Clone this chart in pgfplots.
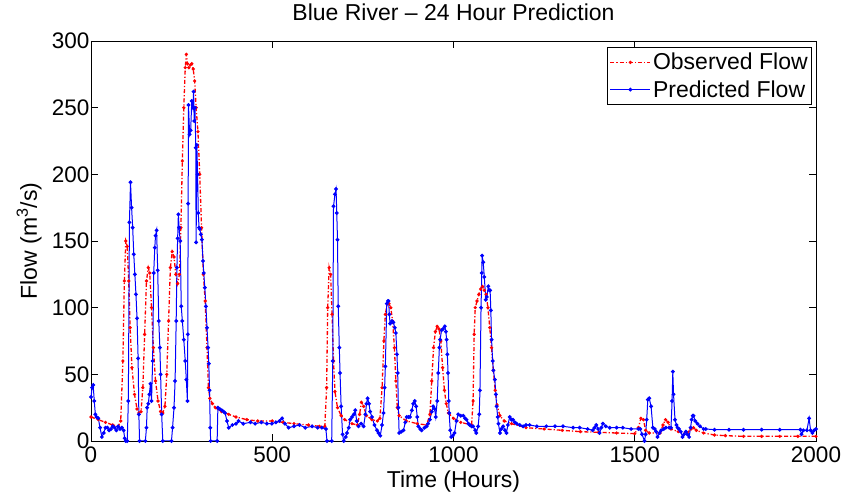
\documentclass[border=0pt]{standalone}
\usepackage{fontspec}
\setmainfont{Liberation Sans}
\usepackage{pgfplots}
\pgfplotsset{compat=1.18}
\begin{document}
\begin{tikzpicture}
\useasboundingbox (-91pt,-54pt) rectangle (756pt,441pt);
\begin{axis}[
  at={(0pt,0pt)}, anchor=south west,
  width=725pt, height=400pt, scale only axis,
  xmin=0, xmax=2000, ymin=0, ymax=300,
  xtick={0,500,1000,1500,2000},
  ytick={0,50,100,150,200,250,300},
  tick align=inside,
  major tick length=7pt,
  tick style={black, line width=0.6pt},
  axis line style={black, line width=0.8pt},
  /pgf/number format/assume math mode=true,
  /pgf/number format/1000 sep={},
  ticklabel style={font=\fontsize{22.5}{26}\selectfont},
  xticklabel style={yshift=-2pt},
  yticklabel style={xshift=2pt},
  title={Blue River -- 24 Hour Prediction},
  title style={at={(0.5,1)}, anchor=base, yshift=14pt, font=\fontsize{23}{27}\selectfont},
  xlabel={Time (Hours)},
  xlabel style={at={(axis description cs:0.5,0)}, anchor=base, yshift=-47pt, font=\fontsize{23}{27}\selectfont},
  ylabel={Flow (m\textsuperscript{3}/s)},
  every axis y label/.style={at={(axis description cs:-0.0745,0.5)}, rotate=90, anchor=base, font=\fontsize{23}{27}\selectfont},
  legend style={at={(1,1)}, anchor=north east, xshift=-4pt, yshift=-6pt,
    draw=black, line width=0.6pt, font=\fontsize{23}{27}\selectfont,
    inner xsep=2pt, inner ysep=4pt, row sep=5pt, cells={anchor=west}},
  legend image code/.code={\draw[mark repeat=2,mark phase=2,#1] plot coordinates {(0pt,0pt)(20pt,0pt)(40pt,0pt)};},
]
\addplot[red, line width=1.3pt, dash pattern=on 4pt off 2pt on 1.2pt off 2pt, mark=*, mark size=0.9pt, mark options={solid}] table {
0 18
20 16
40 14
60 12
75 11
82 15
88 60
92 120
96 150
100 146
104 120
108 85
113 55
120 35
127 24
132 21
138 22
143 40
148 80
153 120
158 130
162 126
167 100
172 70
178 45
185 30
192 22
198 21
204 26
209 50
214 90
219 130
224 142
229 138
234 125
239 118
244 125
248 160
252 210
256 250
260 280
263 290
266 283
270 280
274 282
278 283
282 279
286 270
290 250
295 232
300 200
305 160
310 125
315 105
320 70
324 40
328 32
335 28
343 25
360 22
380 20
400 18
430 16
460 15
500 15
530 14
560 13
600 12
630 11
645 11
650 40
653 100
657 130
661 125
665 95
669 60
673 37
680 25
690 19
700 16
720 13
735 12
741 20
746 29
752 26
760 19
775 16
790 15
797 17
803 40
808 75
812 95
817 103
822 103
827 100
832 90
837 70
841 45
845 25
850 19
870 15
900 13
926 12
935 20
940 45
945 70
950 82
955 86
960 84
965 75
970 55
975 38
980 28
986 21
1000 17
1020 14
1050 12
1054 30
1057 80
1060 100
1065 105
1070 110
1075 114
1080 116
1085 113
1090 110
1095 100
1100 85
1105 70
1110 53
1115 38
1120 27
1128 19
1140 15
1160 13
1200 10
1250 9
1300 8
1350 7
1400 6.5
1450 6
1500 5.5
1510 10
1517 17
1524 16
1530 8
1540 6
1570 6
1578 12
1585 16
1592 14
1600 9
1620 7
1645 6
1655 9
1662 10
1670 8
1690 6
1720 4.5
1750 4
1800 3.5
1850 3.5
1900 3.5
1950 3.5
2000 3.5
};
\addlegendentry{Observed Flow}
\addplot[blue, line width=1pt, mark=*, mark size=1.4pt] table {
0 33
3 40
6 42
9 30
12 20
15 18
20 17
25 10
30 3
35 6
40 10
45 10
50 8
55 9
60 11
65 10
70 8
75 11
80 9
85 10
90 8
93 2
96 0
100 0
103 30
106 164
109 194
112 175
115 160
118 140
121 125
124 110
127 92
130 62
132 20
134 0
150 0
153 10
155 25
158 28
161 35
164 43
167 30
170 60
173 126
176 145
178 154
181 158
184 128
187 90
190 70
192 50
195 20
198 0
222 0
225 10
229 25
232 45
235 90
237 130
239 152
241 170
243 160
246 150
249 101
252 90
256 76
260 60
263 46
266 30
267 80
268 178
269 252
272 230
275 233
278 255
281 250
283 262
285 240
287 250
289 220
290 149
292 222
294 200
296 171
298 160
300 159
303 155
306 151
309 135
311 126
314 115
317 101
320 85
323 70
325 58
327 38
329 10
330 0
348 0
350 25
355 24
361 23
366 22
370 21
375 15
380 10
390 12
400 13
407 15
420 13
440 14
453 13
470 14
485 13
499 13
510 14
520 15
527 17
535 13
545 10
560 11
575 12
591 10
610 11
625 10
637 10
648 9
651 0
664 0
667 60
669 176
673 185
676 189
678 171
680 151
682 101
685 70
687 51
690 26
694 5
697 0
703 3
706 6
711 10
715 16
720 18
725 20
729 23
733 15
738 11
745 13
752 11
757 20
760 28
763 32
767 28
770 22
775 18
782 12
789 8
793 6
798 4
803 12
807 21
810 40
812 56
816 103
819 105
821 105
823 95
825 88
830 90
834 89
838 85
841 81
844 65
846 51
848 25
850 6
856 7
862 8
867 14
871 18
876 18
880 18
885 23
889 28
893 30
897 26
900 18
903 11
908 9
912 8
920 10
926 11
930 13
935 16
940 22
944 26
948 24
951 18
955 30
958 51
961 70
963 76
967 83
971 84
976 86
979 82
981 76
983 65
985 51
987 30
988 21
991 8
994 3
998 4
1003 6
1008 15
1013 20
1020 19
1027 19
1032 17
1036 16
1041 13
1045 12
1050 11
1054 11
1060 8
1063 6
1068 11
1071 20
1073 38
1076 100
1078 126
1079 139
1082 134
1085 123
1089 106
1092 108
1096 116
1099 113
1101 113
1103 98
1105 76
1108 60
1110 53
1114 46
1117 35
1119 26
1122 18
1124 13
1128 6
1132 9
1137 11
1142 8
1146 6
1150 12
1155 18
1160 16
1164 16
1169 14
1174 13
1183 12
1192 11
1200 12
1210 12
1230 11
1256 11
1280 11
1302 11
1330 10
1348 10
1370 9
1384 8
1389 10
1394 12
1399 9
1403 6
1408 10
1412 13
1420 11
1431 10
1450 10
1467 10
1490 9
1510 9
1515 9
1520 5
1527 0
1530 5
1533 16
1536 31
1540 32
1545 26
1550 10
1555 9
1559 7
1563 3
1568 6
1573 8
1580 9
1586 10
1595 10
1600 10
1603 30
1605 52
1607 35
1611 16
1615 12
1618 10
1622 9
1627 7
1632 3
1636 5
1641 7
1645 5
1650 3
1654 10
1657 16
1660 19
1662 19
1667 15
1673 13
1680 11
1690 9
1696 9
1720 8.5
1760 8.5
1800 8.5
1850 8.5
1900 8.5
1957 8.5
1960 5
1965 8
1975 8
1981 17
1985 8
1990 6
1995 8
2000 9
};
\addlegendentry{Predicted Flow}
\end{axis}
\end{tikzpicture}
\end{document}
